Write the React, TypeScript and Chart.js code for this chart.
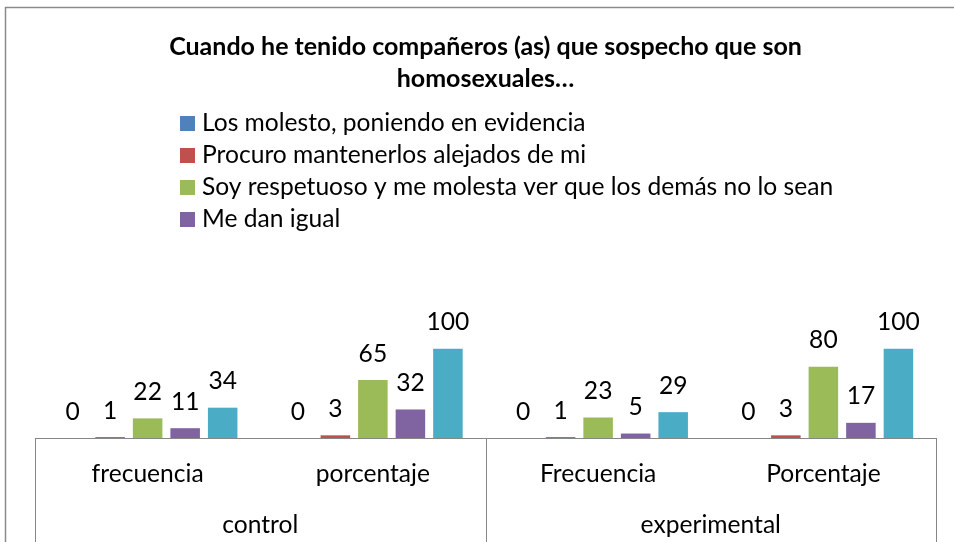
import React, { useEffect, useRef } from "react";
import { Chart, registerables } from "chart.js";

Chart.register(...registerables);

const categories = ["frecuencia", "porcentaje", "Frecuencia", "Porcentaje"];
const groups = ["control", "experimental"];
const seriesNames = [
  "Los molesto, poniendo en evidencia",
  "Procuro mantenerlos alejados de mi",
  "Soy respetuoso y me molesta ver que los demás no lo sean",
  "Me dan igual",
  "Total",
];
const losMolesto = [0, 0, 0, 0];
const procuroAlejados = [1, 3, 1, 3];
const soyRespetuoso = [22, 65, 23, 80];
const meDanIgual = [11, 32, 5, 17];
const total = [34, 100, 29, 100];
const seriesColors = ["#4F81BD", "#C0504D", "#9BBB59", "#8064A2", "#4BACC6"];
const titleLines = ["Cuando he tenido compañeros (as) que sospecho que son", "homosexuales…"];
const legendCount = 4;

const FONT = "Lato, 'Open Sans', sans-serif";
const TEXT_SIZE = 24.6;
const TITLE_SIZE = 25;

const overlayPlugin = {
  id: "overlay",
  afterDatasetsDraw(chart: any) {
    const ctx = chart.ctx;
    ctx.save();
    ctx.fillStyle = "#000";
    ctx.font = `${TEXT_SIZE}px ${FONT}`;
    ctx.textAlign = "center";
    ctx.textBaseline = "alphabetic";
    chart.data.datasets.forEach((ds: any, i: number) => {
      const meta = chart.getDatasetMeta(i);
      meta.data.forEach((el: any, j: number) => {
        ctx.fillText(String(ds.data[j]), el.x, el.y - 18.5);
      });
    });
    ctx.restore();
  },
  afterDraw(chart: any) {
    const ctx = chart.ctx;
    const area = chart.chartArea;
    const xs = chart.scales.x;
    ctx.save();
    // outer frame
    ctx.strokeStyle = "#8a8a8a";
    ctx.lineWidth = 1.5;
    ctx.beginPath();
    ctx.moveTo(5.5, chart.height + 5);
    ctx.lineTo(5.5, 7.5);
    ctx.lineTo(chart.width + 5, 7.5);
    ctx.stroke();

    // category boxes
    const mid = (xs.getPixelForValue(1) + xs.getPixelForValue(2)) / 2;
    ctx.strokeStyle = "#868686";
    ctx.lineWidth = 1;
    [area.left, mid, area.right].forEach((x: number) => {
      const px = Math.round(x) + 0.5;
      ctx.beginPath();
      ctx.moveTo(px, area.bottom);
      ctx.lineTo(px, chart.height);
      ctx.stroke();
    });

    // group labels
    ctx.fillStyle = "#000";
    ctx.font = `${TEXT_SIZE}px ${FONT}`;
    ctx.textAlign = "center";
    ctx.textBaseline = "alphabetic";
    ctx.fillText(groups[0], (area.left + mid) / 2, 533);
    ctx.fillText(groups[1], (mid + area.right) / 2, 533);

    // legend
    ctx.textAlign = "left";
    for (let i = 0; i < legendCount; i++) {
      const base = 131 + i * 32;
      ctx.fillStyle = seriesColors[i];
      ctx.fillRect(180, base - 15, 15, 15);
      ctx.fillStyle = "#000";
      ctx.fillText(seriesNames[i], 202, base);
    }
    ctx.restore();
  },
};

export default function App() {
  const ref = useRef<HTMLCanvasElement>(null);
  useEffect(() => {
    if (!ref.current) return;
    const values = [losMolesto, procuroAlejados, soyRespetuoso, meDanIgual, total];
    const chart = new Chart(ref.current, {
      type: "bar",
      data: {
        labels: categories,
        datasets: values.map((d, i) => ({
          label: seriesNames[i],
          data: d,
          backgroundColor: seriesColors[i],
          borderWidth: 0,
          categoryPercentage: 0.833,
          barPercentage: 0.787,
        })),
      },
      options: {
        responsive: false,
        animation: false,
        layout: { padding: { left: 35, right: 18, top: 0, bottom: 0 } },
        plugins: {
          legend: { display: false },
          tooltip: { enabled: false },
          title: {
            display: true,
            text: titleLines,
            color: "#000",
            font: { family: FONT, size: TITLE_SIZE, weight: "bold", lineHeight: 31.7 / TITLE_SIZE },
            padding: { top: 31, bottom: 236.6 },
          },
        },
        scales: {
          x: {
            grid: { display: false, drawTicks: false },
            border: { display: true, color: "#868686", width: 1 },
            ticks: {
              color: "#000",
              font: { family: FONT, size: TEXT_SIZE },
              padding: 21,
              maxRotation: 0,
              autoSkip: false,
            },
            afterFit: (s: any) => {
              s.height = 104;
            },
          },
          y: { display: false, min: 0, max: 120 },
        },
      },
      plugins: [overlayPlugin],
    });
    return () => chart.destroy();
  }, []);
  return (
    <div style={{ position: "absolute", left: 0, top: 0, width: 954, height: 542, background: "#fff" }}>
      <canvas ref={ref} width={954} height={542} />
    </div>
  );
}
